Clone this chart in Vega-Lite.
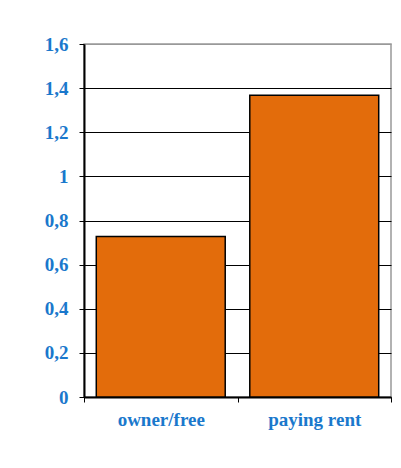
{
  "$schema": "https://vega.github.io/schema/vega-lite/v6.json",
  "autosize": "none",
  "width": 307,
  "height": 353,
  "padding": {"left": 84, "top": 44, "right": 10, "bottom": 71},
  "background": "white",
  "config": {
    "view": {"stroke": "#999999", "strokeWidth": 1.5},
    "axis": {
      "labelFont": "Liberation Serif",
      "labelFontWeight": "bold",
      "labelFontSize": 19,
      "labelColor": "#1a78cc",
      "domainColor": "black",
      "tickColor": "black",
      "title": null
    }
  },
  "data": {
    "values": [
      {"category": "owner/free", "value": 0.728},
      {"category": "paying rent", "value": 1.368}
    ]
  },
  "mark": {"type": "bar", "color": "#e36c0b", "stroke": "black", "strokeWidth": 1.5, "width": {"band": 0.84}},
  "encoding": {
    "x": {
      "field": "category",
      "type": "nominal",
      "sort": null,
      "scale": {"paddingInner": 0, "paddingOuter": 0},
      "axis": {
        "labelAngle": 0,
        "tickBand": "extent",
        "tickSize": 5,
        "domainWidth": 2,
        "labelPadding": 8,
        "labelBaseline": "top",
        "title": null
      }
    },
    "y": {
      "field": "value",
      "type": "quantitative",
      "scale": {"domain": [0, 1.6], "nice": false},
      "axis": {
        "values": [0, 0.2, 0.4, 0.6, 0.8, 1, 1.2, 1.4, 1.6],
        "labelExpr": "replace(format(datum.value, '~g'), '.', ',')",
        "tickSize": 5,
        "domainWidth": 2,
        "labelPadding": 11,
        "grid": true,
        "gridColor": {"condition": {"test": "datum.value >= 1.6", "value": "#999999"}, "value": "black"},
        "gridWidth": 1,
        "title": null
      }
    }
  }
}
